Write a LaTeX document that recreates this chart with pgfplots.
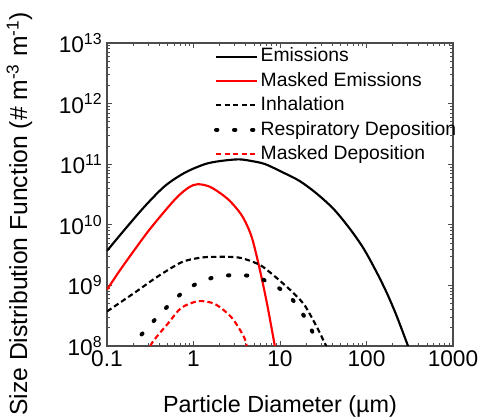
\documentclass[border=0pt]{standalone}
\usepackage{fontspec}
\setmainfont{Liberation Sans}
\usepackage{pgfplots}
\pgfplotsset{compat=1.18}
\begin{document}
\begin{tikzpicture}
\begin{axis}[
  name=ax,
  scale only axis,
  width=259.5pt, height=227.25pt,
  xmode=log, ymode=log,
  xmin=0.1, xmax=1000, ymin=1e8, ymax=1e13,
  xtick={0.1,1,10,100,1000},
  xticklabels={0.1,1,10,100,1000},
  ytick={1e8,1e9,1e10,1e11,1e12,1e13},
  yticklabels={10\textsuperscript{8},10\textsuperscript{9},10\textsuperscript{10},10\textsuperscript{11},10\textsuperscript{12},10\textsuperscript{13}},
  tick label style={font=\fontsize{17}{19}\selectfont},
  tick align=inside,
  major tick length=4pt, minor tick length=2.2pt,
  axis line style={black!70, line width=0.8pt},
  every tick/.style={black!70, line width=0.6pt},
  xlabel={Particle Diameter (µm)},
  ylabel={Size Distribution Function (\# m\textsuperscript{-3} m\textsuperscript{-1})},
  every axis x label/.style={at={(axis description cs:0.5,0)}, anchor=base, yshift=-50pt, font=\fontsize{17.5}{19}\selectfont},
  every axis y label/.style={at={(axis description cs:-0.2312,0.436)}, anchor=base, rotate=90, font=\fontsize{18.5}{20}\selectfont},
  legend style={at={(axis description cs:0.297,1)}, anchor=north west, draw=none, fill=none,
    font=\fontsize{14.5}{16}\selectfont, row sep=2.3pt,
    nodes={inner sep=1pt, text height=11pt, text depth=3pt}},
  legend cell align=left,
  legend image code/.code={\draw[#1] (0pt,0pt) -- (31pt,0pt);},
]
% Emissions
\addplot[black, line width=1.6pt, smooth] coordinates {
(0.1,3.72e9) (0.1622,8.51e9) (0.2754,2.04e10) (0.4677,4.37e10) (0.7943,7.24e10)
(1.349,1.0e11) (1.995,1.122e11) (3.311,1.202e11) (4.786,1.122e11) (6.761,1.0e11)
(10.96,7.24e10) (16.98,5.25e10) (26.30,3.31e10) (41.69,1.82e10) (64.57,8.51e9)
(93.33,3.98e9) (131.8,1.62e9) (173.8,7.24e8) (223.9,3.09e8) (302.0,1e8)};
\addlegendentry{Emissions}
% Masked Emissions
\addplot[red, line width=1.6pt, smooth] coordinates {
(0.1,8.51e8) (0.1413,1.778e9) (0.1995,3.548e9) (0.3020,7.94e9) (0.4677,1.698e10)
(0.6607,2.951e10) (0.8913,4.169e10) (1.122,4.677e10) (1.585,4.169e10) (2.512,2.63e10)
(3.631,1.413e10) (4.677,6.457e9) (5.754,2.0e9) (7.079,5.01e8) (8.710,1e8)};
\addlegendentry{Masked Emissions}
% Inhalation
\addplot[black, line width=1.6pt, dash pattern=on 4pt off 2.4pt, smooth] coordinates {
(0.1,3.715e8) (0.2089,7.586e8) (0.3890,1.413e9) (0.7244,2.399e9) (1.122,2.818e9)
(1.622,2.951e9) (3.311,2.884e9) (5.623,2.239e9) (7.586,1.66e9) (11.48,1.0e9)
(15.14,6.918e8) (19.50,4.571e8) (26.30,2.138e8) (31.62,1.259e8) (34.28,1e8)};
\addlegendentry{Inhalation}
% Respiratory Deposition
\addplot[black, line width=3pt, line cap=round, dash pattern=on 1pt off 12.5pt, smooth] coordinates {
(0.2512,1.549e8) (0.4074,3.311e8) (0.6761,6.761e8) (1.122,1.096e9)
(1.820,1.380e9) (2.951,1.479e9) (4.786,1.413e9) (7.762,1.096e9) (12.88,6.607e8)
(19.05,3.090e8) (25.12,1.445e8)};
\addlegendentry{Respiratory Deposition}
% Masked Deposition
\addplot[red, line width=1.6pt, dash pattern=on 4pt off 2.4pt, smooth] coordinates {
(0.3162,1e8) (0.3548,1.288e8) (0.5129,2.399e8) (0.7244,4.266e8) (1.148,5.495e8)
(1.778,4.898e8) (2.754,2.951e8) (3.802,1.445e8) (4.121,1e8)};
\addlegendentry{Masked Deposition}
\end{axis}
\pgfresetboundingbox
\path[use as bounding box] ([xshift=-80.25pt,yshift=-55.5pt]ax.south west) rectangle ([xshift=21pt,yshift=32.25pt]ax.north east);
\end{tikzpicture}
\end{document}
